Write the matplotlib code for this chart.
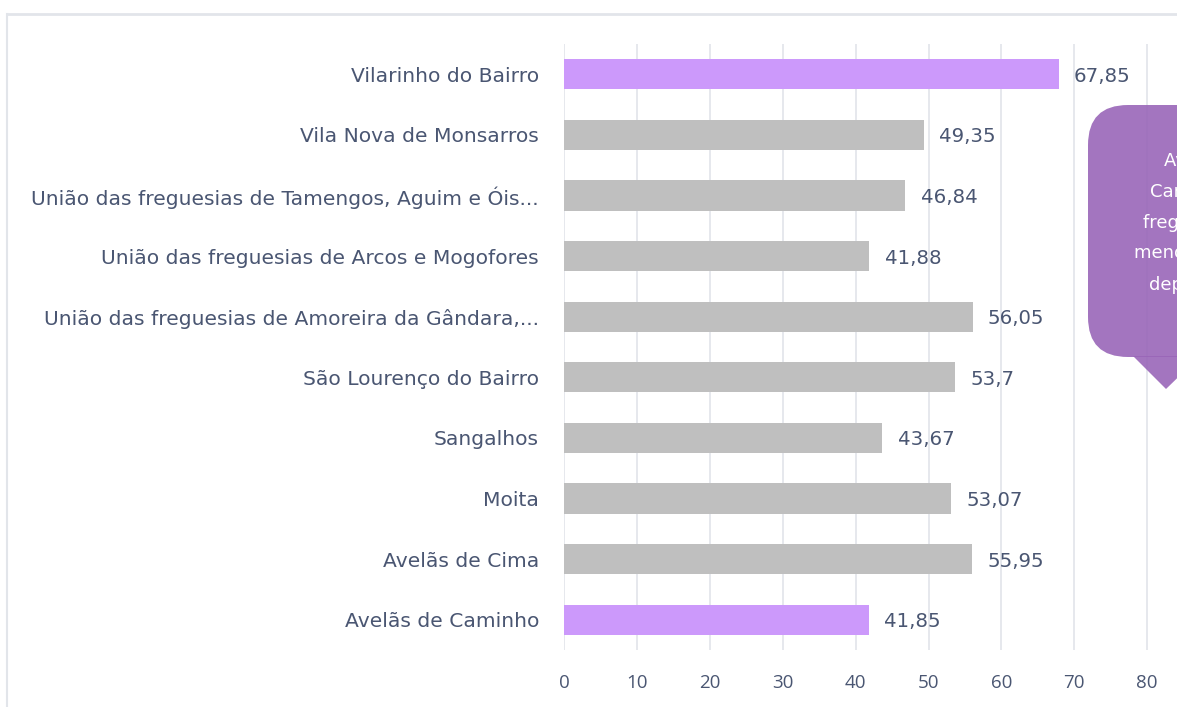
import matplotlib
matplotlib.use("Agg")
import matplotlib.pyplot as plt
from matplotlib.patches import FancyBboxPatch, Polygon
from matplotlib.lines import Line2D

# data, top to bottom as in the chart
freguesias = [
    "Vilarinho do Bairro",
    "Vila Nova de Monsarros",
    "União das freguesias de Tamengos, Aguim e Óis...",
    "União das freguesias de Arcos e Mogofores",
    "União das freguesias de Amoreira da Gândara,...",
    "São Lourenço do Bairro",
    "Sangalhos",
    "Moita",
    "Avelãs de Cima",
    "Avelãs de Caminho",
]
valores = [67.85, 49.35, 46.84, 41.88, 56.05, 53.7, 43.67, 53.07, 55.95, 41.85]
destaque = ["Vilarinho do Bairro", "Avelãs de Caminho"]
ticks = [0, 10, 20, 30, 40, 50, 60, 70, 80]
nota = "Avelãs de\nCaminho é a\nfreguesia com\nmenor índice de\ndependência"

W, H = 1177, 707
fig = plt.figure(figsize=(W / 100, H / 100), dpi=100)
plt.rcParams["font.family"] = ["DejaVu Sans"]

txt = "#4a5672"
left, right = 564 / W, 1.0
bottom, top = 1 - 650 / H, 1 - 44 / H
ax = fig.add_axes([left, bottom, right - left, top - bottom])

y = list(range(len(freguesias)))
cores = ["#cc99fb" if f in destaque else "#bfbfbf" for f in freguesias]
ax.barh(y, valores, height=0.5, color=cores, zorder=3)
ax.set_ylim(len(freguesias) - 0.5, -0.5)
ax.set_xlim(0, (W - 564) / 7.29)

for i, v in enumerate(valores):
    ax.annotate(f"{v:g}".replace(".", ","), (v, i), xytext=(11, -1.5),
                textcoords="offset points", va="center", ha="left",
                fontsize=14.2, color=txt, zorder=4)

ax.set_yticks(y)
ax.set_yticklabels(freguesias, fontsize=14.6, color=txt)
ax.set_xticks(ticks)
ax.set_xticklabels([str(t) for t in ticks], fontsize=13.5, color=txt,
                   family="Open Sans")
ax.tick_params(axis="y", length=0, pad=18)
ax.tick_params(axis="x", length=0, pad=17)
ax.grid(axis="x", color="#e1e4ea", linewidth=1.2, zorder=0)
for s in ax.spines.values():
    s.set_visible(False)

# overlay in pixel coords for frame and callout
ov = fig.add_axes([0, 0, 1, 1], zorder=5)
ov.set_xlim(0, W)
ov.set_ylim(H, 0)
ov.axis("off")
ov.add_line(Line2D([7, 7], [14, H], color="#e2e5ea", lw=1.5))
ov.add_line(Line2D([7, W], [14, 14], color="#e2e5ea", lw=2))

roxo = "#9966b8"
box = FancyBboxPatch((1088 + 40, 105 + 40), 200 - 80, 252 - 80,
                     boxstyle="round,pad=40", fc=roxo, ec="none", alpha=0.9)
ov.add_patch(box)
ov.add_patch(Polygon([[1133, 356], [1200, 356], [1166, 389]], closed=True,
                     fc=roxo, ec="none", alpha=0.9))
ov.text(1207, 223, nota, ha="center", va="center", color="white",
        fontsize=13, linespacing=1.92)

fig.savefig("out.png", dpi=100)
